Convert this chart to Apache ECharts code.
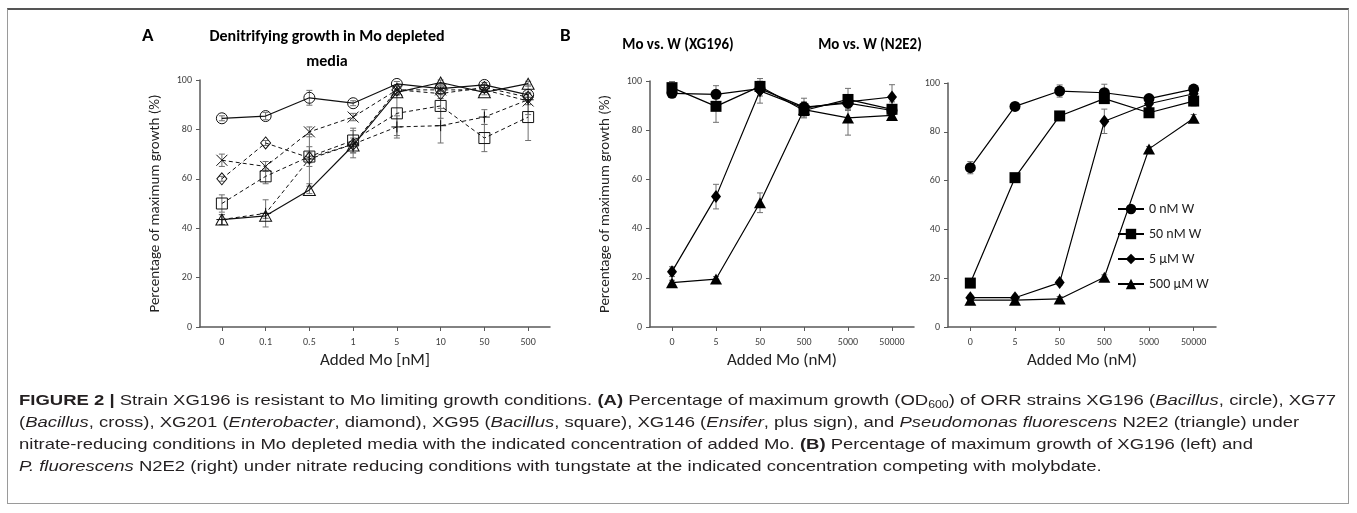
<!DOCTYPE html>
<html>
<head>
<meta charset="utf-8">
<script src="https://cdn.jsdelivr.net/npm/echarts@6/dist/echarts.min.js"></script>
<style>
  html, body { margin: 0; padding: 0; background: #fff; }
  #wrap { position: relative; width: 1357px; height: 513px; overflow: hidden; }
  #chart { position: absolute; left: 0; top: 0; width: 1357px; height: 513px; }
  #frame { position: absolute; left: 7px; top: 8px; width: 1342px; height: 496px; border: 1px solid #9a9a9a; border-top: 2px solid #555; box-sizing: border-box; }
  #caption { position: absolute; left: 19px; top: 389px; font-family: "Liberation Sans Narrow", "Liberation Sans", Arial, sans-serif; font-size: 15px; color: #231f20; line-height: 22px; }
  #caption .ln { white-space: nowrap; transform-origin: 0 50%; display: block; width: max-content; }
  #caption sub { font-size: 10px; vertical-align: -3px; line-height: 0; }
</style>
</head>
<body>
<div id="wrap">
  <div id="frame"></div>
  <div id="chart"></div>
  <div id="caption">
    <span class="ln"><b>FIGURE 2 |</b> Strain XG196 is resistant to Mo limiting growth conditions. <b>(A)</b> Percentage of maximum growth (OD<sub>600</sub>) of ORR strains XG196 (<i>Bacillus</i>, circle), XG77</span>
    <span class="ln">(<i>Bacillus</i>, cross), XG201 (<i>Enterobacter</i>, diamond), XG95 (<i>Bacillus</i>, square), XG146 (<i>Ensifer</i>, plus sign), and <i>Pseudomonas fluorescens</i> N2E2 (triangle) under</span>
    <span class="ln">nitrate-reducing conditions in Mo depleted media with the indicated concentration of added Mo. <b>(B)</b> Percentage of maximum growth of XG196 (left) and</span>
    <span class="ln"><i>P. fluorescens</i> N2E2 (right) under nitrate reducing conditions with tungstate at the indicated concentration competing with molybdate.</span>
  </div>
</div>
<script>
// ---------------- DATA ----------------
const catsA = ['0', '0.1', '0.5', '1', '5', '10', '50', '500'];
const catsB = ['0', '5', '50', '500', '5000', '50000'];
const yTicks = [0, 20, 40, 60, 80, 100];

// Panel A: % of maximum growth
const a_XG196 = [84.5, 85.4, 92.8, 90.6, 98.4, 96.5, 98, 94];
const a_XG77  = [67.5, 65, 79, 85, 96, 96, 96, 91.5];
const a_XG201 = [60, 74.5, 68.5, 74, 96, 94.5, 97, 93];
const a_XG95  = [50, 61, 69, 75.5, 86.5, 89.5, 76.5, 85];
const a_XG146 = [43.5, 46, 68, 74, 81, 81.5, 85, 92];
const a_N2E2  = [43.5, 45, 55.5, 73.5, 95, 99, 95, 98.5];
// Panel A error bars (±)
const e_XG196 = [1, 1.5, 3, 1, 1, 1, 1, 1];
const e_XG77  = [2.5, 2, 2, 1.5, 2, 2, 1, 1.5];
const e_XG201 = [1, 1, 2, 1, 2, 2, 1, 1.5];
const e_XG95  = [3.5, 3, 4, 5, 9, 5, 5.5, 9.5];
const e_XG146 = [2, 5.5, 10, 5.5, 4.5, 7, 3, 6];
const e_N2E2  = [2, 1, 1.5, 3, 1, 1, 1, 1];

// Panel B left: XG196
const bL_0nM   = [95, 94.6, 96.9, 89.4, 91, 88];
const bL_50nM  = [97.3, 89.7, 97.8, 88, 92.5, 88.5];
const bL_5uM   = [22.5, 53, 96, 89, 91.5, 93.5];
const bL_500uM = [18, 19.5, 50.5, 88.4, 85, 86];
const ebL_0nM   = [1, 3.5, 3, 2, 2, 2];
const ebL_50nM  = [2.5, 6.5, 1, 2, 4.5, 3];
const ebL_5uM   = [2, 5, 5, 4, 3, 5];
const ebL_500uM = [1, 1, 4, 3, 7, 2];

// Panel B right: N2E2
const bR_0nM   = [65.3, 90.4, 96.7, 96, 93.6, 97.5];
const bR_50nM  = [18, 61.2, 86.5, 93.6, 87.8, 92.6];
const bR_5uM   = [12, 12, 18.2, 84.3, 91.5, 95.6];
const bR_500uM = [11, 11, 11.5, 20.4, 73, 85.6];
const ebR_0nM   = [2.5, 1, 2.5, 3.5, 1.5, 1];
const ebR_50nM  = [1, 1, 1, 2, 1.5, 2];
const ebR_5uM   = [1, 1, 1, 5, 1.5, 1.5];
const ebR_500uM = [1, 1, 1, 1, 1, 1.5];

const legendNames = ['0 nM W', '50 nM W', '5 µM W', '500 µM W'];

// ---------------- STYLE ----------------
const FONT = 'Carlito, Lato, "Open Sans", sans-serif';
const AX = '#595959';
const crossPath = 'path://M0,0L10,10M10,0L0,10';
const plusPath = 'path://M5,0L5,10M0,5L10,5';

const chart = echarts.init(document.getElementById('chart'), null, { renderer: 'canvas' });

const grids = [
  { left: 200, top: 80, width: 350, height: 247 },
  { left: 650, top: 81, width: 264, height: 246 },
  { left: 948, top: 83, width: 268, height: 244 }
];

function xAxis(idx, cats, name) {
  return {
    type: 'category', gridIndex: idx, data: cats,
    axisLine: { lineStyle: { color: AX, width: 1.5 } },
    axisTick: { show: true, alignWithLabel: true, length: 4, lineStyle: { color: AX } },
    axisLabel: { color: '#404040', fontSize: 10, fontFamily: FONT, margin: 10 },
    name: name, nameLocation: 'middle', nameGap: 25,
    nameTextStyle: { color: '#222', fontSize: 17, fontFamily: FONT }
  };
}
function yAxis(idx, name) {
  return {
    type: 'value', gridIndex: idx, min: 0, max: 100, interval: 20,
    splitLine: { show: false },
    axisLine: { show: true, lineStyle: { color: AX, width: 1.5 } },
    axisTick: { show: true, length: 4, lineStyle: { color: AX } },
    axisLabel: { color: '#404040', fontSize: 10, fontFamily: FONT, margin: 8,
      formatter: v => yTicks.includes(v) ? String(v) : '' },
    name: name, nameLocation: 'middle', nameGap: 37,
    nameTextStyle: { color: '#222', fontSize: 15, fontFamily: FONT }
  };
}

function errSeries(gi, vals, errs) {
  return {
    type: 'custom', xAxisIndex: gi, yAxisIndex: gi, z: 1, silent: true,
    data: vals.map((v, i) => [i, v - errs[i], v + errs[i]]),
    renderItem: function (params, api) {
      const lo = api.coord([api.value(0), api.value(1)]);
      const hi = api.coord([api.value(0), api.value(2)]);
      const w = 3;
      const st = { stroke: '#707070', lineWidth: 1 };
      return { type: 'group', children: [
        { type: 'line', shape: { x1: lo[0], y1: lo[1], x2: hi[0], y2: hi[1] }, style: st },
        { type: 'line', shape: { x1: lo[0] - w, y1: lo[1], x2: lo[0] + w, y2: lo[1] }, style: st },
        { type: 'line', shape: { x1: hi[0] - w, y1: hi[1], x2: hi[0] + w, y2: hi[1] }, style: st }
      ]};
    }
  };
}

function openLine(name, vals, symbol, size, dashed) {
  return {
    name: name, type: 'line', xAxisIndex: 0, yAxisIndex: 0, data: vals, z: 3,
    symbol: symbol, symbolSize: size, showAllSymbol: true,
    lineStyle: { color: '#111', width: dashed ? 1 : 1.2, type: dashed ? [4, 3] : 'solid' },
    itemStyle: { color: 'rgba(255,255,255,0)', borderColor: '#111', borderWidth: 1 },
    emphasis: { disabled: true }
  };
}
function filledLine(gi, name, vals, symbol, size) {
  return {
    name: name, type: 'line', xAxisIndex: gi, yAxisIndex: gi, data: vals, z: 3,
    symbol: symbol, symbolSize: size, showAllSymbol: true,
    lineStyle: { color: '#000', width: 1.2 },
    itemStyle: { color: '#000', borderColor: '#000', borderWidth: 0 },
    emphasis: { disabled: true }
  };
}

const bSymbols = [['circle', 11], ['rect', 11], ['diamond', [10, 13]], ['triangle', [12, 11]]];

const option = {
  animation: false,
  backgroundColor: 'transparent',
  grid: grids,
  xAxis: [xAxis(0, catsA, 'Added Mo [nM]'), xAxis(1, catsB, 'Added Mo (nM)'), xAxis(2, catsB, 'Added Mo (nM)')],
  yAxis: [yAxis(0, 'Percentage of maximum growth (%)'), yAxis(1, 'Percentage of maximum growth (%)'), yAxis(2, '')],
  legend: {
    show: true, orient: 'vertical', left: 1112, top: 197, itemGap: 11,
    itemWidth: 26, itemHeight: 13, data: legendNames,
    textStyle: { fontFamily: FONT, fontSize: 14, color: '#222' },
    selectedMode: false
  },
  graphic: [
    { type: 'text', left: 142, top: 27, style: { text: 'A', font: 'bold 19px ' + FONT, fill: '#000' } },
    { type: 'text', left: 560, top: 27, style: { text: 'B', font: 'bold 19px ' + FONT, fill: '#000' } },
    { type: 'text', x: 327, y: 37, style: { text: 'Denitrifying growth in Mo depleted', font: 'bold 16px ' + FONT, fill: '#000', align: 'center', verticalAlign: 'middle' } },
    { type: 'text', x: 327, y: 62, style: { text: 'media', font: 'bold 16px ' + FONT, fill: '#000', align: 'center', verticalAlign: 'middle' } },
    { type: 'text', x: 678, y: 45, style: { text: 'Mo vs. W (XG196)', font: 'bold 15px ' + FONT, fill: '#000', align: 'center', verticalAlign: 'middle' } },
    { type: 'text', x: 870, y: 45, style: { text: 'Mo vs. W (N2E2)', font: 'bold 15px ' + FONT, fill: '#000', align: 'center', verticalAlign: 'middle' } }
  ],
  series: [
    errSeries(0, a_XG196, e_XG196), errSeries(0, a_XG77, e_XG77), errSeries(0, a_XG201, e_XG201),
    errSeries(0, a_XG95, e_XG95), errSeries(0, a_XG146, e_XG146), errSeries(0, a_N2E2, e_N2E2),
    openLine('XG196', a_XG196, 'circle', 11, false),
    openLine('XG77', a_XG77, crossPath, 11, true),
    openLine('XG201', a_XG201, 'diamond', [10, 12], true),
    openLine('XG95', a_XG95, 'rect', 11, true),
    openLine('XG146', a_XG146, plusPath, 11, true),
    openLine('N2E2', a_N2E2, 'triangle', [12, 11], false),

    errSeries(1, bL_0nM, ebL_0nM), errSeries(1, bL_50nM, ebL_50nM), errSeries(1, bL_5uM, ebL_5uM), errSeries(1, bL_500uM, ebL_500uM),
    filledLine(1, legendNames[0], bL_0nM, bSymbols[0][0], bSymbols[0][1]),
    filledLine(1, legendNames[1], bL_50nM, bSymbols[1][0], bSymbols[1][1]),
    filledLine(1, legendNames[2], bL_5uM, bSymbols[2][0], bSymbols[2][1]),
    filledLine(1, legendNames[3], bL_500uM, bSymbols[3][0], bSymbols[3][1]),

    errSeries(2, bR_0nM, ebR_0nM), errSeries(2, bR_50nM, ebR_50nM), errSeries(2, bR_5uM, ebR_5uM), errSeries(2, bR_500uM, ebR_500uM),
    filledLine(2, legendNames[0], bR_0nM, bSymbols[0][0], bSymbols[0][1]),
    filledLine(2, legendNames[1], bR_50nM, bSymbols[1][0], bSymbols[1][1]),
    filledLine(2, legendNames[2], bR_5uM, bSymbols[2][0], bSymbols[2][1]),
    filledLine(2, legendNames[3], bR_500uM, bSymbols[3][0], bSymbols[3][1])
  ]
};
chart.setOption(option);

// fit caption lines to the figure's text width
(function () {
  const lines = document.querySelectorAll('#caption .ln');
  const w0 = lines[0].getBoundingClientRect().width;
  const s = 1317 / w0;
  lines.forEach(l => { l.style.transform = 'scaleX(' + s.toFixed(4) + ')'; });
})();
</script>
</body>
</html>
